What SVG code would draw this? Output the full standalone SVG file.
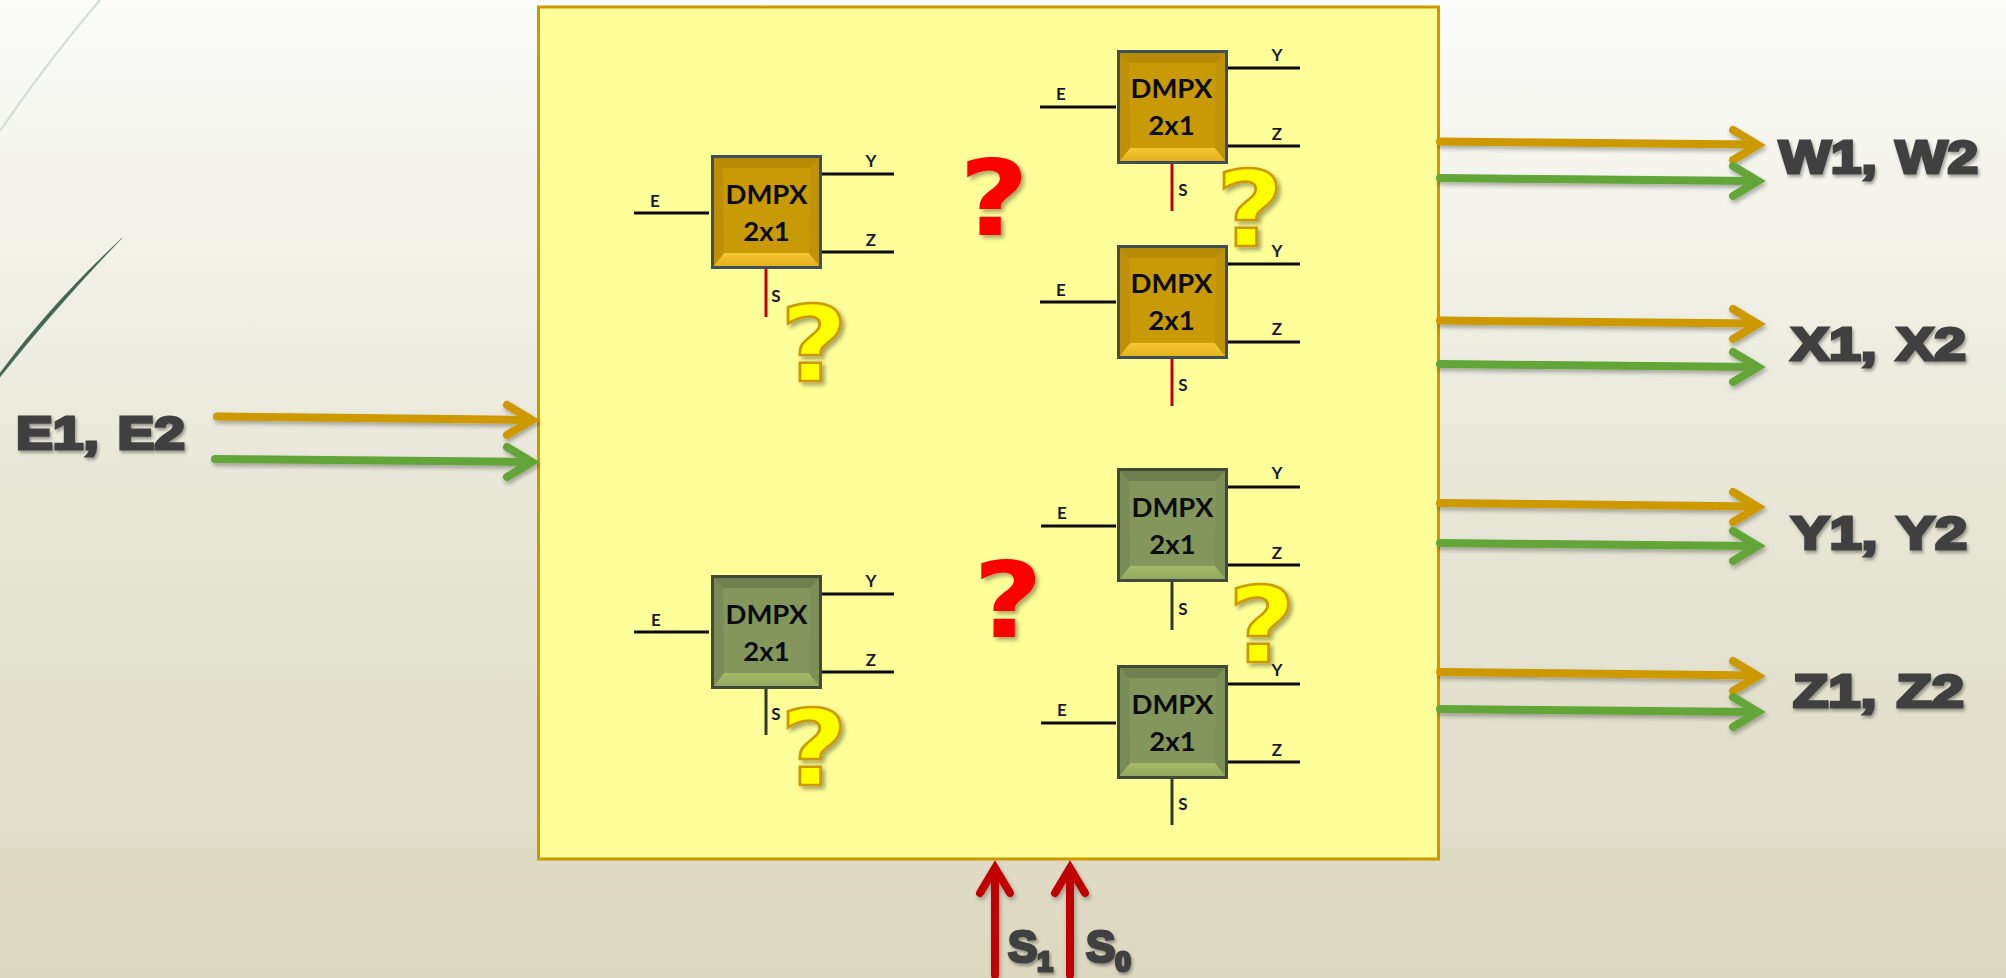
<svg xmlns="http://www.w3.org/2000/svg" width="2006" height="978" viewBox="0 0 2006 978">
<style>
.big{font-family:"Liberation Sans",Arial,sans-serif;font-weight:700;fill:#404040;stroke:#404040;stroke-width:3;stroke-linejoin:miter;word-spacing:3px;filter:url(#sh)}
.q{font-family:"DejaVu Sans",sans-serif;font-weight:700;font-size:106px;text-anchor:middle;filter:url(#sh2)}
.qy{fill:#ffff00;stroke:#cc9900;stroke-width:2.5;stroke-linejoin:miter}
.qr{fill:#ff0000}
.dm{font-family:Lato,"Open Sans",sans-serif;font-weight:700;font-size:27.500px;text-anchor:middle;fill:#0c0c0c}
.pin{font-family:Lato,"Open Sans",sans-serif;font-weight:700;font-size:17px;text-anchor:middle;fill:#1a1a2a}
.w{stroke:#0a0a0a;stroke-width:3;fill:none}
.wr{stroke:#c00000;stroke-width:3;fill:none}
.wg{stroke:#2f3a28;stroke-width:3;fill:none}
.a{fill:none;stroke-width:8;stroke-linecap:round;stroke-linejoin:miter}
.gold{stroke:#cc9900}.green{stroke:#63a537}.red{stroke:#c00000}
</style>
<defs>
<linearGradient id="bg" x1="0" y1="0" x2="0" y2="1"><stop offset="0" stop-color="#fbfcf9"/><stop offset="0.5" stop-color="#e8e7d8"/><stop offset="1" stop-color="#dcd8c0"/></linearGradient>
<linearGradient id="gb" x1="0" y1="0" x2="0" y2="1"><stop offset="0" stop-color="#f5c733"/><stop offset="1" stop-color="#dfb01c"/></linearGradient>
<linearGradient id="vb" x1="0" y1="0" x2="0" y2="1"><stop offset="0" stop-color="#a7b968"/><stop offset="1" stop-color="#92a560"/></linearGradient>
<filter id="sh" x="-10%" y="-20%" width="125%" height="150%"><feDropShadow dx="1.500" dy="2.500" stdDeviation="1.500" flood-color="#000" flood-opacity="0.35"/></filter>
<filter id="sh2" x="-20%" y="-20%" width="150%" height="150%"><feDropShadow dx="3" dy="3" stdDeviation="2" flood-color="#000" flood-opacity="0.35"/></filter>
<filter id="sha" x="-5%" y="-50%" width="110%" height="250%"><feDropShadow dx="1.500" dy="3" stdDeviation="2" flood-color="#000" flood-opacity="0.3"/></filter>
<g id="boxGold">
<rect x="0" y="0" width="109" height="112" fill="#c89a06"/>
<polygon points="0,0 109,0 98,12 11,12" fill="#b68b05"/>
<polygon points="0,112 109,112 97,97 12,97" fill="url(#gb)"/>
<polygon points="0,0 11,12 12,97 0,112" fill="#bd9005"/>
<polygon points="109,0 98,12 97,97 109,112" fill="#c09306"/>
<rect x="0.500" y="0.500" width="108" height="111" fill="none" stroke="#3f4f55" stroke-width="3"/>
</g>
<g id="boxGreen">
<rect x="0" y="0" width="109" height="112" fill="#84965c"/>
<polygon points="0,0 109,0 98,12 11,12" fill="#707f4e"/>
<polygon points="0,112 109,112 97,97 12,97" fill="url(#vb)"/>
<polygon points="0,0 11,12 12,97 0,112" fill="#7a8c55"/>
<polygon points="109,0 98,12 97,97 109,112" fill="#7d8f56"/>
<rect x="0.500" y="0.500" width="108" height="111" fill="none" stroke="#3f4a38" stroke-width="3"/>
</g>
</defs>
<rect id="background" width="2006" height="978" fill="url(#bg)"/>
<path d="M0,131 Q50,58 100,0" fill="none" stroke="#d6ddd6" stroke-width="2.200"/>
<path d="M0,373 Q50,305 122,238 Q55,308 0,377 Z" fill="#46664f" stroke="#46664f" stroke-width="0.400"/>
<rect id="panel" x="538.500" y="7" width="900" height="852" fill="#ffff99" stroke="#cc9900" stroke-width="3"/>

<g id="connectors">
<path class="w" d="M634,213H709M821,174H894M821,252H894"/>
<path class="wr" d="M766,268V317"/>
<path class="w" d="M1040,107H1116M1226,68H1300M1226,146H1300"/>
<path class="wr" d="M1172,162V211"/>
<path class="w" d="M1040,302H1116M1226,264H1300M1226,342H1300"/>
<path class="wr" d="M1172,357V406"/>
<path class="w" d="M634,632H709M821,594H894M821,672H894"/>
<path class="wg" d="M766,687V735"/>
<path class="w" d="M1041,526H1116M1227,487H1300M1227,565H1300"/>
<path class="wg" d="M1172,581V630"/>
<path class="w" d="M1041,723H1116M1227,684H1300M1227,762H1300"/>
<path class="wg" d="M1172,778V825"/>
<g filter="url(#sha)">
<path class="a gold" d="M217,416.500L530,420M507,405L532,420L507,435"/>
<path class="a green" d="M215,459L530,462M507,447L532,462L507,477"/>
<path class="a gold" d="M1440,141.500L1755,144.500M1733,130L1758,145L1733,160"/>
<path class="a green" d="M1440,178L1755,181M1733,166L1758,181L1733,196"/>
<path class="a gold" d="M1440,320.500L1755,323.500M1733,309L1758,324L1733,339"/>
<path class="a green" d="M1440,364L1755,367M1733,352L1758,367L1733,382"/>
<path class="a gold" d="M1440,503L1755,506.500M1733,492L1758,507L1733,522"/>
<path class="a green" d="M1440,543L1755,546M1733,531L1758,546L1733,561"/>
<path class="a gold" d="M1440,672L1755,675.500M1733,661L1758,676L1733,691"/>
<path class="a green" d="M1440,709L1755,712M1733,697L1758,712L1733,727"/>
<path class="a red" d="M995,975V870M980,893L995,868L1010,893"/>
<path class="a red" d="M1070,975V870M1055,893L1070,868L1085,893"/>
</g>
</g>

<g id="node-gold-left" transform="translate(712,156)"><use href="#boxGold"/>
<text class="dm" x="54.500" y="48">DMPX</text><text class="dm" x="54.500" y="85">2x1</text>
<text class="pin" x="-57" y="51">E</text><text class="pin" x="159" y="11">Y</text><text class="pin" x="159" y="90">Z</text><text class="pin" x="64" y="146">S</text></g>
<g id="node-gold-right-top" transform="translate(1118,51)"><use href="#boxGold"/>
<text class="dm" x="53.500" y="47">DMPX</text><text class="dm" x="53.500" y="84">2x1</text>
<text class="pin" x="-57" y="49">E</text><text class="pin" x="159" y="10">Y</text><text class="pin" x="159" y="89">Z</text><text class="pin" x="65" y="145">S</text></g>
<g id="node-gold-right-bottom" transform="translate(1118,246)"><use href="#boxGold"/>
<text class="dm" x="53.500" y="47">DMPX</text><text class="dm" x="53.500" y="84">2x1</text>
<text class="pin" x="-57" y="50">E</text><text class="pin" x="159" y="11">Y</text><text class="pin" x="159" y="89">Z</text><text class="pin" x="65" y="145">S</text></g>
<g id="node-green-left" transform="translate(712,576)"><use href="#boxGreen"/>
<text class="dm" x="54.500" y="48">DMPX</text><text class="dm" x="54.500" y="85">2x1</text>
<text class="pin" x="-56" y="50">E</text><text class="pin" x="159" y="11">Y</text><text class="pin" x="159" y="90">Z</text><text class="pin" x="64" y="144">S</text></g>
<g id="node-green-right-top" transform="translate(1118,469)"><use href="#boxGreen"/>
<text class="dm" x="54.500" y="48">DMPX</text><text class="dm" x="54.500" y="85">2x1</text>
<text class="pin" x="-56" y="50">E</text><text class="pin" x="159" y="10">Y</text><text class="pin" x="159" y="90">Z</text><text class="pin" x="65" y="146">S</text></g>
<g id="node-green-right-bottom" transform="translate(1118,666)"><use href="#boxGreen"/>
<text class="dm" x="54.500" y="48">DMPX</text><text class="dm" x="54.500" y="85">2x1</text>
<text class="pin" x="-56" y="50">E</text><text class="pin" x="159" y="10">Y</text><text class="pin" x="159" y="90">Z</text><text class="pin" x="65" y="144">S</text></g>

<g id="questions">
<text class="q qy" x="814" y="381" textLength="68" lengthAdjust="spacingAndGlyphs">?</text>
<text class="q qy" x="1250" y="246" textLength="68" lengthAdjust="spacingAndGlyphs">?</text>
<text class="q qy" x="1262" y="662" textLength="68" lengthAdjust="spacingAndGlyphs">?</text>
<text class="q qy" x="814" y="785" textLength="68" lengthAdjust="spacingAndGlyphs">?</text>
<text class="q qr" x="994" y="235" textLength="70" lengthAdjust="spacingAndGlyphs">?</text>
<text class="q qr" x="1008" y="637" textLength="70" lengthAdjust="spacingAndGlyphs">?</text>
</g>

<g id="labels">
<text class="big" x="16" y="449" font-size="46" textLength="169" lengthAdjust="spacingAndGlyphs">E1, E2</text>
<text class="big" x="1779" y="173" font-size="46" textLength="199" lengthAdjust="spacingAndGlyphs">W1, W2</text>
<text class="big" x="1791" y="360" font-size="46" textLength="175" lengthAdjust="spacingAndGlyphs">X1, X2</text>
<text class="big" x="1791" y="549" font-size="46" textLength="176" lengthAdjust="spacingAndGlyphs">Y1, Y2</text>
<text class="big" x="1793" y="707" font-size="46" textLength="171" lengthAdjust="spacingAndGlyphs">Z1, Z2</text>
<text class="big" x="1008" y="962" font-size="44">S<tspan font-size="28" dy="9">1</tspan></text>
<text class="big" x="1086" y="962" font-size="44">S<tspan font-size="28" dy="9">0</tspan></text>
</g>
</svg>
